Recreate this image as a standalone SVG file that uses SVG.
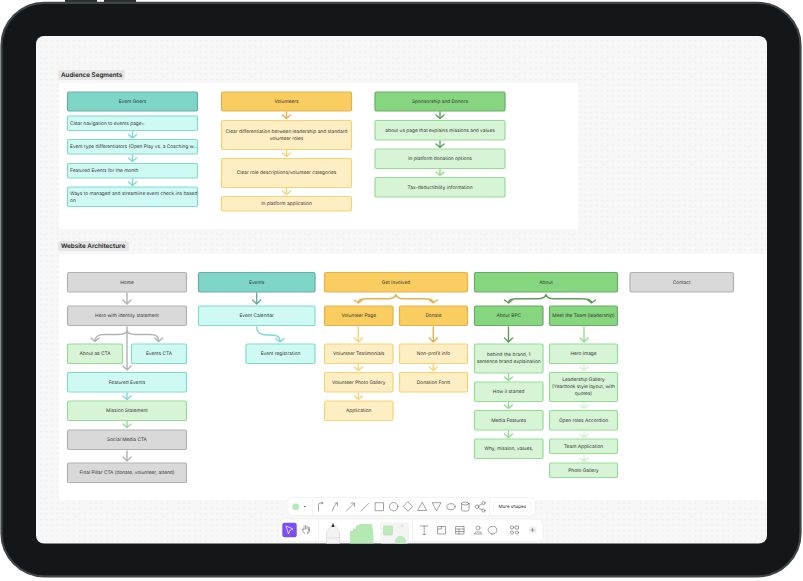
<svg xmlns="http://www.w3.org/2000/svg" width="803" height="581" viewBox="0 0 803 581">
<style>
text{font-family:Inter,"Liberation Sans",sans-serif;font-size:4.8px;fill:#333;text-anchor:middle;dominant-baseline:central;text-rendering:geometricPrecision;transform:translateY(.4px)}
text.l{text-anchor:start}
text.h{font-size:6.300px;font-weight:600;fill:#222;text-anchor:start}
rect.n{stroke-width:1.200}
.tH{fill:#7dd6c8;stroke:#6aaca2}
.tL{fill:#cffaf4;stroke:#7fdad0}
.yH{fill:#f9cd5f;stroke:#e5b14e}
.yL{fill:#fdeec3;stroke:#f9d272}
.gH{fill:#85d67f;stroke:#6aaa68}
.gL{fill:#d7f4d6;stroke:#93de93}
.gy{fill:#d9d9d9;stroke:#b2b2b2}
.c{fill:none;stroke-width:1.400;stroke-linecap:round;stroke-linejoin:round}
.i{fill:none;stroke:#666;stroke-width:.6;stroke-linejoin:round;stroke-linecap:round}
.bar{fill:#fff;stroke:#efefef;stroke-width:.8}
</style>
<defs>
<pattern id="dots" width="5.500" height="5.500" patternUnits="userSpaceOnUse"><rect x="2" y="2" width="1" height="1" fill="#e2e2e2"/></pattern>
</defs>
<rect x="65" y="0" width="32" height="4" fill="#2a3032"/>
<rect x="104" y="0" width="32" height="4" fill="#2a3032"/>
<rect x="1.500" y="2.800" width="799" height="573.500" rx="43" fill="#131719" stroke="#3d4548" stroke-width="2.200"/>
<rect x="36" y="36" width="731" height="507.500" rx="8" fill="#f7f7f7"/>
<rect x="36" y="36" width="731" height="507.500" rx="8" fill="url(#dots)"/>
<rect x="59" y="83" width="519" height="146" rx="2" fill="#fff"/>
<path d="M59,256 a2,2 0 0 1 2,-2 H767 V500 H61 a2,2 0 0 1 -2,-2 Z" fill="#fff"/>
<rect x="58" y="70" width="67" height="10" rx="2.500" fill="#e6e6e6"/>
<text class="h" x="61" y="75">Audience Segments</text>
<rect x="58" y="241" width="71" height="10" rx="2.500" fill="#e6e6e6"/>
<text class="h" x="61" y="246">Website Architecture</text>

<g id="connectors">
<path class="c" stroke="#7fdad0" d="M132.500,131.500V137.500M128.500,134.500L132.500,138L136.500,134.500M132.500,155V161M128.500,158L132.500,161.500L136.500,158M132.500,179V185M128.500,182L132.500,185.500L136.500,182"/>
<path class="c" stroke="#e5b14e" d="M286.500,112V118.500M282.500,115L286.500,118.500L290.500,115"/>
<path class="c" stroke="#f9d272" d="M286.500,150V156.500M282.500,153L286.500,156.500L290.500,153M286.500,188.500V194.500M282.500,191L286.500,194.500L290.500,191"/>
<path class="c" stroke="#5f9f5d" d="M440,112V118.500M436,115L440,118.500L444,115M440,141V147.500M436,144L440,147.500L444,144"/>
<path class="c" stroke="#93de93" d="M440,169.500V175.500M436,172L440,175.500L444,172"/>
<path class="c" stroke="#b2b2b2" d="M127,293V304M123,300L127,304L131,300M127,327V370M123,366L127,370L131,366M127,330C127,333 124,334.500 118,334.500H104C98,334.500 95,336 95,341.500M91,338L95,341.500L99,338M127,330C127,333 130,334.500 136,334.500H150C156,334.500 158.700,336 158.700,341.500M154.700,338L158.700,341.500L162.700,338M127,451V461M123,457L127,461L131,457"/>
<path class="c" stroke="#7fdad0" d="M127,393V399M123,396L127,399.500L131,396"/>
<path class="c" stroke="#93de93" d="M127,421.500V427.500M123,424L127,427.500L131,424"/>
<path class="c" stroke="#6aaca2" d="M256.700,293V304M252.700,300L256.700,304L260.700,300"/>
<path class="c" stroke="#7fdad0" d="M256.700,327C257,335 264,335 270,335C277,335 280,336 280,342M276,338.500L280,342L284,338.500"/>
<path class="c" stroke="#e5b14e" d="M395.800,294.500C395,298 392,298.700 388,298.700H368C362,298.700 358.300,299 358.300,303M354.300,300L358.300,303L362.300,300M395.800,294.500C397,298 399,298.700 403,298.700H423C429,298.700 433.300,299 433.300,303M429.300,300L433.300,303L437.300,300M433.300,327V342M429.300,338L433.300,342L437.300,338"/>
<path class="c" stroke="#f9d272" d="M358.300,327V342M354.300,338L358.300,342L362.300,338M358.300,364.500V370.500M354.300,367L358.300,370.500L362.300,367M358.300,393V399M354.300,396L358.300,399.500L362.300,396M433.300,364.500V370.500M429.300,367L433.300,370.500L437.300,367"/>
<path class="c" stroke="#5f9f5d" d="M546,294.500C545,298 542,298.700 538,298.700H518C512,298.700 508.500,299 508.500,303M504.500,300L508.500,303L512.500,300M546,294.500C547,298 549,298.700 553,298.700H580C587,298.700 591.500,299 591.500,303M587.500,300L591.500,303L595.500,300M508.500,327V342M504.500,338L508.500,342L512.500,338"/>
<path class="c" stroke="#93de93" d="M584,327V342M580,338L584,342L588,338M508.500,374V380M504.500,377L508.500,380.500L512.500,377M508.500,402.500V408.500M504.500,405L508.500,408.500L512.500,405M508.500,431V437M504.500,434L508.500,437.500L512.500,434"/>
<path class="c" stroke="#d4efd3" d="M584,364.500V370.500M580,367L584,370.500L588,367M584,402.500V408.500M580,405L584,408.500L588,405M584,431V437M580,434L584,437.500L588,434M584,455V461M580,458L584,461.500L588,458"/>
</g>

<g id="event-goers"><rect class="n tH" x="67.500" y="92" width="130" height="19" rx="1.500"/><text x="132.500" y="101.500">Event Goers</text></g>
<g id="eg-1"><rect class="n tL" x="67.500" y="116" width="130" height="14.500" rx="1.500"/><text class="l" x="70" y="123.300">Clear navigation to events page=</text></g>
<g id="eg-2"><rect class="n tL" x="67.500" y="139.500" width="130" height="14.500" rx="1.500"/><text class="l" x="70" y="147">Event type differentiators (Open Play vs. a Coaching w...</text></g>
<g id="eg-3"><rect class="n tL" x="67.500" y="163.500" width="130" height="14.500" rx="1.500"/><text class="l" x="70" y="170.700">Featured Events for the month</text></g>
<g id="eg-4"><rect class="n tL" x="67.500" y="187" width="130" height="19.500" rx="1.500"/><text class="l" x="70" y="193.300">Ways to managed and streamline event check ins based</text><text class="l" x="70" y="200.300">on</text></g>

<g id="volunteers"><rect class="n yH" x="221.500" y="92" width="130" height="19" rx="1.500"/><text x="286.500" y="101.500">Volunteers</text></g>
<g id="v-1"><rect class="n yL" x="221.500" y="120.500" width="130" height="29" rx="1.500"/><text x="286.500" y="131.500">Clear differentiation between leadership and standard</text><text x="286.500" y="138.500">volunteer roles</text></g>
<g id="v-2"><rect class="n yL" x="221.500" y="158.500" width="130" height="29" rx="1.500"/><text x="286.500" y="173">Clear role descriptions/volunteer categories</text></g>
<g id="v-3"><rect class="n yL" x="221.500" y="196.500" width="130" height="14.500" rx="1.500"/><text x="286.500" y="204">In platform application</text></g>

<g id="sponsorship"><rect class="n gH" x="375" y="92" width="130" height="19" rx="1.500"/><text x="440" y="101.500">Sponsorship and Donors</text></g>
<g id="s-1"><rect class="n gL" x="375" y="120.500" width="130" height="19.500" rx="1.500"/><text x="440" y="130.300">about us page that explains missions and values</text></g>
<g id="s-2"><rect class="n gL" x="375" y="149" width="130" height="19.500" rx="1.500"/><text x="440" y="159">In platform donation options</text></g>
<g id="s-3"><rect class="n gL" x="375" y="177.500" width="130" height="19.500" rx="1.500"/><text x="440" y="187.300">Tax-deductibility information</text></g>

<g id="home"><rect class="n gy" x="67.500" y="272.500" width="119" height="19.500" rx="1.500"/><text x="127" y="282.300">Home</text></g>
<g id="hero"><rect class="n gy" x="67.500" y="306" width="119" height="19.500" rx="1.500"/><text x="127" y="315.800">Hero with identity statement</text></g>
<g id="about-cta"><rect class="n gL" x="67.500" y="344" width="55" height="19.500" rx="1.500"/><text x="95" y="353.800">About as CTA</text></g>
<g id="events-cta"><rect class="n tL" x="131.500" y="344" width="55" height="19.500" rx="1.500"/><text x="159" y="353.800">Events CTA</text></g>
<g id="featured"><rect class="n tL" x="67.500" y="372.500" width="119" height="19.500" rx="1.500"/><text x="127" y="382.300">Featured Events</text></g>
<g id="mission"><rect class="n gL" x="67.500" y="401" width="119" height="19.500" rx="1.500"/><text x="127" y="410.800">Mission Statement</text></g>
<g id="social"><rect class="n gy" x="67.500" y="430" width="119" height="19.500" rx="1.500"/><text x="127" y="439.500">Social Media CTA</text></g>
<g id="final"><rect class="n gy" x="67.500" y="463" width="119" height="19.500" rx="1.500"/><text x="127" y="473">Final Pillar CTA (donate, volunteer, attend)</text></g>

<g id="events"><rect class="n tH" x="198.500" y="272.500" width="116.500" height="19.500" rx="1.500"/><text x="256.700" y="282.300">Events</text></g>
<g id="calendar"><rect class="n tL" x="198.500" y="306" width="116.500" height="19.500" rx="1.500"/><text x="256.700" y="315.800">Event Calendar</text></g>
<g id="registration"><rect class="n tL" x="246" y="344" width="69" height="19.500" rx="1.500"/><text x="280.500" y="353.800">Event registration</text></g>

<g id="get-involved"><rect class="n yH" x="324.500" y="272.500" width="143" height="19.500" rx="1.500"/><text x="396" y="282.300">Get Involved</text></g>
<g id="vol-page"><rect class="n yH" x="324.500" y="306" width="68.500" height="19.500" rx="1.500"/><text x="358.700" y="315.800">Volunteer Page</text></g>
<g id="donate"><rect class="n yH" x="399.500" y="306" width="68" height="19.500" rx="1.500"/><text x="433.500" y="315.800">Donate</text></g>
<g id="vol-test"><rect class="n yL" x="324.500" y="344" width="68.500" height="19.500" rx="1.500"/><text x="358.700" y="353.800">Volunteer Testimonials</text></g>
<g id="vol-photo"><rect class="n yL" x="324.500" y="372.500" width="68.500" height="19.500" rx="1.500"/><text x="358.700" y="382.300">Volunteer Photo Gallery</text></g>
<g id="application"><rect class="n yL" x="324.500" y="401" width="68.500" height="19.500" rx="1.500"/><text x="358.700" y="410.800">Application</text></g>
<g id="nonprofit"><rect class="n yL" x="399.500" y="344" width="68" height="19.500" rx="1.500"/><text x="433.500" y="353.800">Non-profit info</text></g>
<g id="donation-form"><rect class="n yL" x="399.500" y="372.500" width="68" height="19.500" rx="1.500"/><text x="433.500" y="382.300">Donation Form</text></g>

<g id="about"><rect class="n gH" x="474.500" y="272.500" width="143" height="19.500" rx="1.500"/><text x="546" y="282.300">About</text></g>
<g id="about-bpc"><rect class="n gH" x="474.500" y="306" width="68.500" height="19.500" rx="1.500"/><text x="508.700" y="315.800">About BPC</text></g>
<g id="meet"><rect class="n gH" x="549.500" y="306" width="68" height="19.500" rx="1.500"/><text x="583.500" y="315.800">Meet the Team (leadership)</text></g>
<g id="behind"><rect class="n gL" x="474.500" y="344" width="68.500" height="29" rx="1.500"/><text x="508.700" y="355">behind the brand, 1</text><text x="508.700" y="362">sentence brand explaination</text></g>
<g id="how"><rect class="n gL" x="474.500" y="382" width="68.500" height="19.500" rx="1.500"/><text x="508.700" y="391.800">How it started</text></g>
<g id="media"><rect class="n gL" x="474.500" y="410.500" width="68.500" height="19.500" rx="1.500"/><text x="508.700" y="420.300">Media Features</text></g>
<g id="why"><rect class="n gL" x="474.500" y="439" width="68.500" height="19.500" rx="1.500"/><text x="508.700" y="448.800">Why, mission, values,</text></g>
<g id="hero-image"><rect class="n gL" x="549.500" y="344" width="68" height="19.500" rx="1.500"/><text x="583.500" y="353.800">Hero Image</text></g>
<g id="leadership"><rect class="n gL" x="549.500" y="372.500" width="68" height="29" rx="1.500"/><text x="583.500" y="380">Leadership Gallery</text><text x="583.500" y="387">(Yearbook style layout, with</text><text x="583.500" y="394">quotes)</text></g>
<g id="open-roles"><rect class="n gL" x="549.500" y="410.500" width="68" height="19.500" rx="1.500"/><text x="583.500" y="420.300">Open roles Accordion</text></g>
<g id="team-app"><rect class="n gL" x="549.500" y="439" width="68" height="14.500" rx="1.500"/><text x="583.500" y="446.500">Team Application</text></g>
<g id="photo"><rect class="n gL" x="549.500" y="463" width="68" height="14.500" rx="1.500"/><text x="583.500" y="470.500">Photo Gallery</text></g>
<g id="contact"><rect class="n gy" x="630" y="272.500" width="103.500" height="19.500" rx="1.500"/><text x="681.700" y="282.300">Contact</text></g>

<rect class="bar" x="287" y="497.500" width="248" height="18" rx="5"/>
<rect class="bar" x="279" y="519" width="264" height="22" rx="5"/>
<circle cx="295.700" cy="506.700" r="3.500" fill="#b6e8b6"/>
<path d="M303.500,506h2.500l-1.250,1.500z" fill="#666"/>
<path d="M312.700,498V515M489.700,498V515M318.500,519V541M412.500,519V541" stroke="#ececec" stroke-width=".7" fill="none"/>
<path class="i" d="M318.500,511V505C318.500,503 319.500,503 321,503L323,503M321.500,502l1.500,1-1.500,1"/>
<path class="i" d="M332.500,511C333,508 334,506 337,503M335,503h2.500v2.500"/>
<path class="i" d="M346.500,511L354,503.500M351,503h3.500v3.500"/>
<path class="i" d="M361,511L368.500,503.500"/>
<rect class="i" x="375.500" y="502.700" width="8" height="8"/>
<circle class="i" cx="393.700" cy="506.700" r="4.200"/>
<path class="i" d="M408,502L412.500,506.700L408,511.400L403.500,506.700Z"/>
<path class="i" d="M422.300,502.500L426.700,510.500H417.900Z"/>
<path class="i" d="M432.500,502.700H441L436.700,510.500Z"/>
<ellipse class="i" cx="451" cy="506.700" rx="4.200" ry="3"/>
<path class="i" d="M461.500,503.500V510C461.500,511.500 469,511.500 469,510V503.500"/><ellipse class="i" cx="465.200" cy="503.500" rx="3.700" ry="1.500"/>
<circle class="i" cx="477" cy="506.700" r="1.800"/><circle class="i" cx="483.500" cy="503" r="1.600"/><circle class="i" cx="483.500" cy="510.500" r="1.600"/><path class="i" d="M478.500,505.800L482,503.800M478.500,507.600L482,509.700"/>
<rect x="493.500" y="502" width="37.500" height="10" rx="2" fill="#fff" stroke="#efefef" stroke-width=".6"/>
<text x="512.300" y="507" style="font-size:4.500px">More shapes</text>

<rect x="282.300" y="522.700" width="14.400" height="14.600" rx="2" fill="#7b4ff5"/>
<path d="M286,526L293,529L289.800,530.500L288.500,534Z" fill="none" stroke="#fff" stroke-width=".7" stroke-linejoin="round"/>
<path class="i" d="M304.500,533.500L302,529.500C303,528.500 303.500,529.500 304,530V526M305.500,529V525.500M307,529V526M308.500,529.500V527C309.500,527 309.500,528 309.500,529C309.500,532 309,533.500 308,533.500Z"/>
<rect x="380" y="522.500" width="29" height="21" rx="2" fill="#f4f4f4"/>
<path d="M326.500,543.500V533C328,529 331,525 333,523.500C335,525 338,529 339.500,533V543.500Z" fill="#f3f3f3" stroke="#cfcfcf" stroke-width=".5"/>
<path d="M331.500,527L333,523L334.500,527Z" fill="#222"/>
<path d="M326.500,538H339.500" stroke="#cfcfcf" stroke-width=".5"/>
<path d="M350,543.500V531L353,531V528.500H356V526L361,524L372,524L373.500,533V543.500Z" fill="#b6e8b6"/>
<rect x="383.500" y="526" width="9" height="9" rx="1" fill="#bfeabf" stroke="#a8e0a8" stroke-width=".6"/>
<path d="M399,528C400,526 401,525.500 403,525.500M401.500,524.500L403.200,525.500L401.500,526.700" fill="none" stroke="#dcdcdc" stroke-width=".7"/>
<path d="M396,543.500A5,5 0 1 1 405,543.500Z" fill="#bfeabf" stroke="#a8e0a8" stroke-width=".6"/>
<path class="i" d="M420.500,526H428M424.200,526V534.500M423,534.500H425.500"/>
<path class="i" d="M438,526.500H445.500V534H438ZM438,529H441.500V526.500"/>
<rect class="i" x="456" y="526.500" width="8" height="7.500"/>
<path class="i" d="M456,529H464M456,531.500H464M459,529V534"/>
<circle class="i" cx="478" cy="528" r="2"/><path class="i" d="M474.500,534H481.500V533C481.500,531.500 474.500,531.500 474.500,533Z"/>
<path class="i" d="M492,534L495,533.500C497,532 497.500,529 496,527.500C494,525.500 490,526 488.500,528.500C487.500,530.500 488.500,533 492,534Z"/>
<circle class="i" cx="512" cy="527.500" r="1.600"/><circle class="i" cx="512" cy="532.500" r="1.600"/><circle class="i" cx="517" cy="532.500" r="1.600"/><path class="i" d="M515.500,526H518.500V529H515.500Z"/>
<circle cx="532.500" cy="530" r="4" fill="#f0f0f0"/>
<path d="M530.500,530H534.500M532.500,528V532" stroke="#666" stroke-width=".6"/>
</svg>
